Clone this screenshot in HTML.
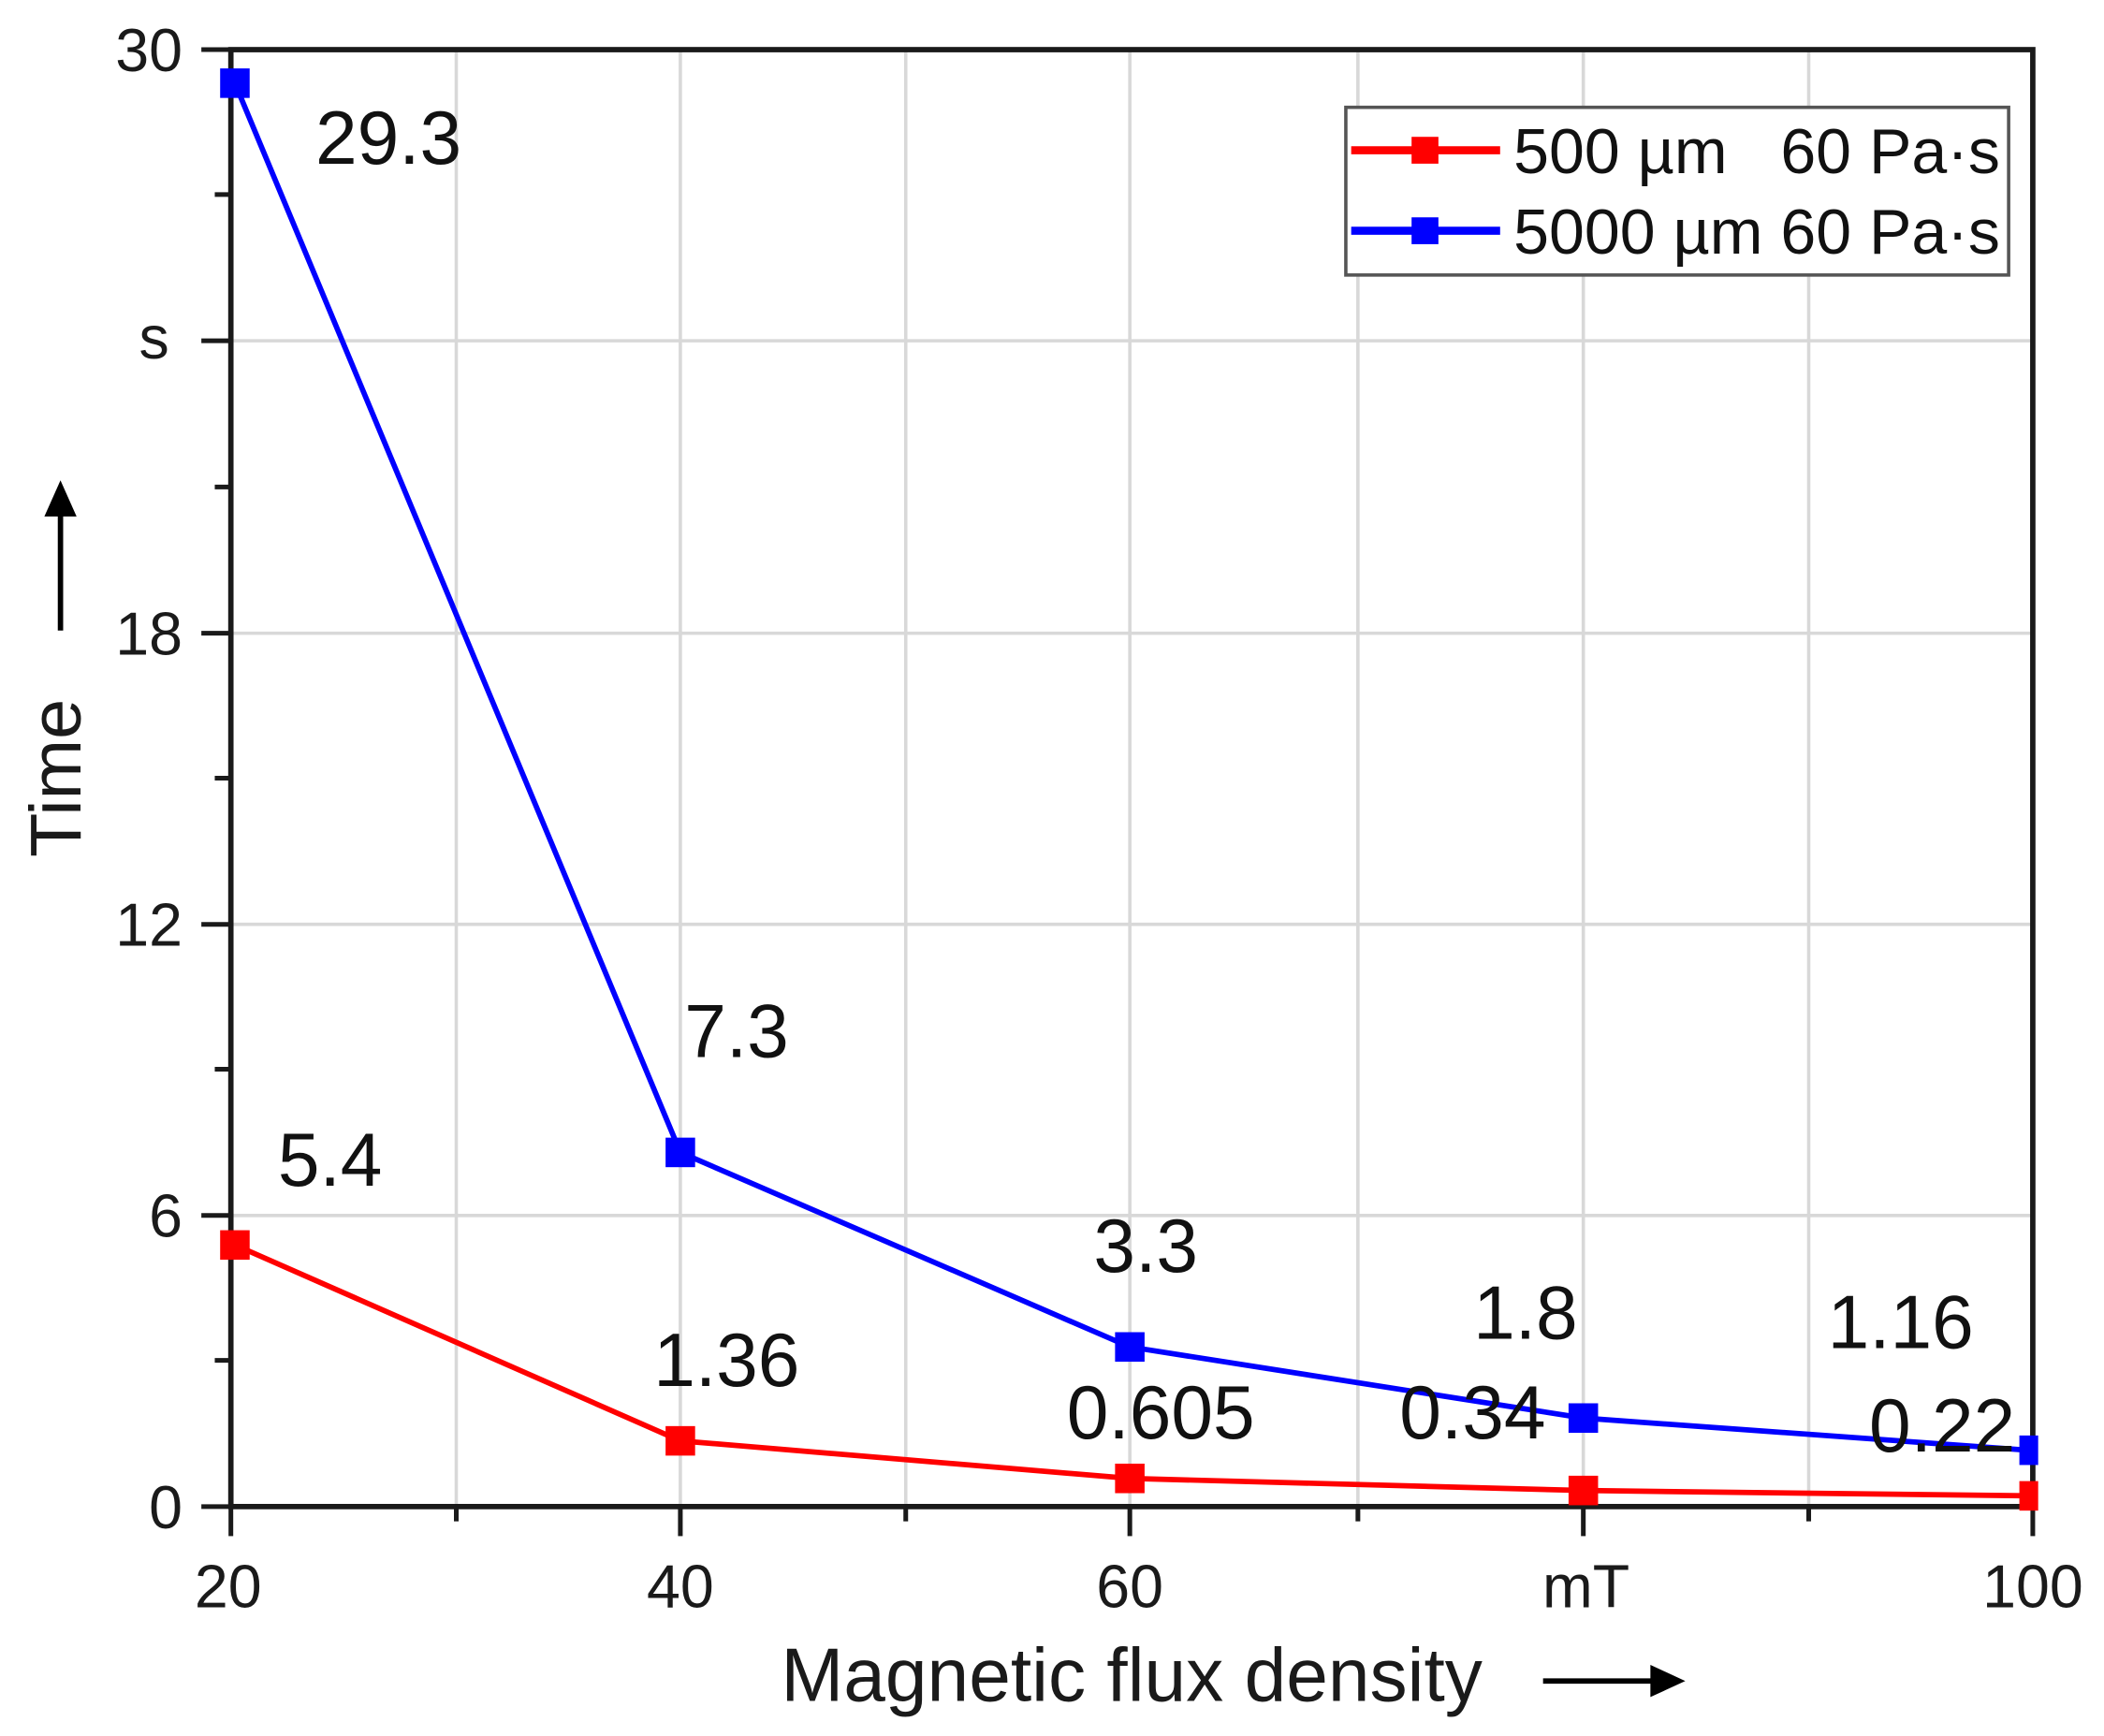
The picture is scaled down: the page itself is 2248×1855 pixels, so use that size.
<!DOCTYPE html>
<html><head><meta charset="utf-8"><style>html,body{margin:0;padding:0;background:#fff}svg{display:block}</style></head>
<body>
<svg width="2248" height="1855" viewBox="0 0 1568 1294" xmlns="http://www.w3.org/2000/svg" font-family="Liberation Sans, Arial, sans-serif">
<g stroke="#d8d8d8" stroke-width="2.5">
<line x1="340" y1="37" x2="340" y2="1123"/><line x1="507" y1="37" x2="507" y2="1123"/>
<line x1="675" y1="37" x2="675" y2="1123"/><line x1="842" y1="37" x2="842" y2="1123"/>
<line x1="1012" y1="37" x2="1012" y2="1123"/><line x1="1180" y1="37" x2="1180" y2="1123"/>
<line x1="1348" y1="37" x2="1348" y2="1123"/>
<line x1="172" y1="254" x2="1515" y2="254"/><line x1="172" y1="472" x2="1515" y2="472"/>
<line x1="172" y1="689" x2="1515" y2="689"/><line x1="172" y1="906" x2="1515" y2="906"/>
</g>
<rect x="172" y="37" width="1343" height="1086" fill="none" stroke="#1a1a1a" stroke-width="4"/>
<g stroke="#1a1a1a" stroke-width="3.5">
<line x1="150" y1="37" x2="172" y2="37"/><line x1="150" y1="254" x2="172" y2="254"/><line x1="150" y1="472" x2="172" y2="472"/><line x1="150" y1="689" x2="172" y2="689"/><line x1="150" y1="906" x2="172" y2="906"/><line x1="150" y1="1123" x2="172" y2="1123"/>
<line x1="160" y1="145" x2="172" y2="145"/><line x1="160" y1="363" x2="172" y2="363"/><line x1="160" y1="580" x2="172" y2="580"/><line x1="160" y1="797" x2="172" y2="797"/><line x1="160" y1="1014" x2="172" y2="1014"/>
<line x1="172" y1="1123" x2="172" y2="1145"/><line x1="507" y1="1123" x2="507" y2="1145"/><line x1="842" y1="1123" x2="842" y2="1145"/><line x1="1180" y1="1123" x2="1180" y2="1145"/><line x1="1515" y1="1123" x2="1515" y2="1145"/>
<line x1="340" y1="1123" x2="340" y2="1134"/><line x1="675" y1="1123" x2="675" y2="1134"/><line x1="1012" y1="1123" x2="1012" y2="1134"/><line x1="1348" y1="1123" x2="1348" y2="1134"/>
</g>
<g font-size="45" fill="#1a1a1a" text-anchor="end">
<text x="136" y="53">30</text><text x="126" y="267">s</text><text x="136" y="488">18</text><text x="136" y="705">12</text><text x="136" y="922">6</text><text x="136" y="1139">0</text>
</g>
<g font-size="45" fill="#1a1a1a" text-anchor="middle">
<text x="170" y="1198">20</text><text x="507" y="1198">40</text><text x="842" y="1198">60</text><text x="1182" y="1198">mT</text><text x="1515" y="1198">100</text>
</g>
<text x="582" y="1268" font-size="56" fill="#1a1a1a">Magnetic flux density</text>
<line x1="1150" y1="1253" x2="1235" y2="1253" stroke="#000" stroke-width="4"/><polygon points="1230,1241 1256,1253 1230,1265" fill="#000"/>
<text transform="translate(60,580) rotate(-90)" font-size="54" fill="#1a1a1a" text-anchor="middle">Time</text>
<line x1="45" y1="470" x2="45" y2="380" stroke="#000" stroke-width="4"/><polygon points="33,385 45,358 57,385" fill="#000"/>
<polyline points="175,928 507,1074 842,1102 1180,1111 1512,1115" fill="none" stroke="#ff0000" stroke-width="4"/>
<polyline points="175,62 507,859 842,1004 1180,1057 1512,1081" fill="none" stroke="#0000ff" stroke-width="4"/>
<g fill="#ff0000"><rect x="164" y="917" width="22" height="22"/><rect x="496" y="1063" width="22" height="22"/><rect x="831" y="1091" width="22" height="22"/><rect x="1169" y="1100" width="22" height="22"/><rect x="1505" y="1104" width="14" height="22"/></g>
<g fill="#0000ff"><rect x="164" y="51" width="22" height="22"/><rect x="496" y="848" width="22" height="22"/><rect x="831" y="993" width="22" height="22"/><rect x="1169" y="1046" width="22" height="22"/><rect x="1505" y="1070" width="14" height="22"/></g>
<g font-size="56" fill="#111">
<text x="235" y="122">29.3</text><text x="510" y="788">7.3</text><text x="207" y="884">5.4</text><text x="815" y="948">3.3</text><text x="487" y="1033">1.36</text><text x="795" y="1072">0.605</text><text x="1098" y="998">1.8</text><text x="1043" y="1072">0.34</text><text x="1362" y="1005">1.16</text><text x="1393" y="1082">0.22</text>
</g>
<rect x="1003" y="80" width="494" height="125" fill="#fff" stroke="#555" stroke-width="2.5"/>
<line x1="1007" y1="112" x2="1118" y2="112" stroke="#ff0000" stroke-width="6"/><rect x="1052" y="102" width="20" height="20" fill="#ff0000"/>
<line x1="1007" y1="172" x2="1118" y2="172" stroke="#0000ff" stroke-width="6"/><rect x="1052" y="162" width="20" height="20" fill="#0000ff"/>
<g font-size="47.5" fill="#111"><text x="1128" y="129" xml:space="preserve">500 µm   60 Pa·s</text><text x="1128" y="189">5000 µm 60 Pa·s</text></g>
</svg>
</body></html>
